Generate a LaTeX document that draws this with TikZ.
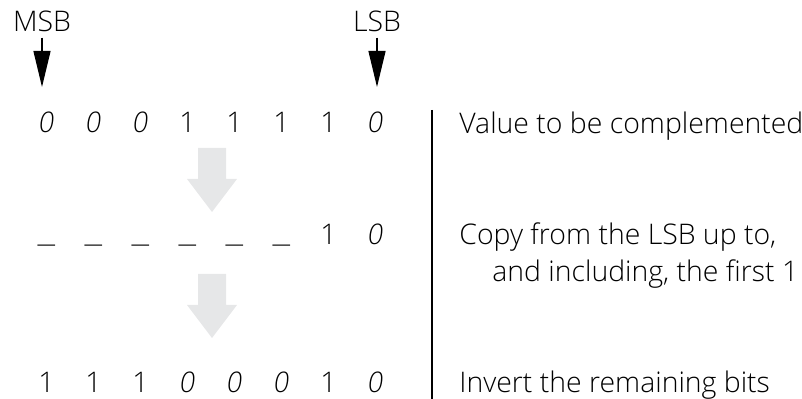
\documentclass[tikz,border=0pt]{standalone}
\usepackage{fontspec}
\setmainfont{Open Sans}[UprightFont={* Light},ItalicFont={* Light Italic}]
\usetikzlibrary{arrows.meta}
\definecolor{flowgray}{HTML}{E6E7E8}
\newcommand{\zero}{\textit{0}}
\newcommand{\blank}{\raisebox{1.2pt}{\scalebox{1.5}[1]{\_}}}
\begin{document}
\begin{tikzpicture}[x=0.5pt,y=-0.5pt,font=\fontsize{14.2}{16}\selectfont,
		bit/.style={anchor=base,inner sep=0pt},
		note/.style={anchor=base west,inner sep=0pt},
		pointer/.style={line width=0.6pt,-{Triangle[length=18pt,width=8.5pt]}},
		flow/.style={fill=flowgray,draw=none}]
	\useasboundingbox (0,0) rectangle (802,399);
	% end labels with their pointers
	\node[bit] (msb) at (42,32) {MSB};
	\node[bit] (lsb) at (377,32) {LSB};
	\path (42,87) coordinate (msbtip)
		(377,87) coordinate (lsbtip);
	\draw[pointer] ([yshift=-2.5pt]msb.south)--(msbtip);
	\draw[pointer] ([yshift=-2.5pt]lsb.south)--(lsbtip);
	% the three rows of bits
	\foreach \b [count=\i] in {\zero,\zero,\zero,1,1,1,1,\zero}
		\node[bit] (a\i) at ({46.5+47*(\i-1)},133) {\b};
	\foreach \b [count=\i] in {\blank,\blank,\blank,\blank,\blank,\blank,1,\zero}
		\node[bit] (b\i) at ({46.5+47*(\i-1)},245) {\b};
	\foreach \b [count=\i] in {1,1,1,\zero,\zero,\zero,1,\zero}
		\node[bit] (c\i) at ({46.5+47*(\i-1)},393) {\b};
	% grey block arrows between rows
	\foreach \t in {148,274}
		\fill[flow] (198,\t)--(226,\t)--(226,{\t+31})--(237,{\t+31})
			--(212,{\t+64})--(187,{\t+31})--(198,{\t+31})--cycle;
	% divider and notes
	\draw[line width=0.75pt] (432,110)--(432,399);
	\node[note] (n1) at (459,134) {Value to be complemented};
	\node[note] (n2) at (459,245) {Copy from the LSB up to,};
	\node[note] (n3) at (492,282) {and including, the first 1};
	\node[note] (n4) at (459,393) {Invert the remaining bits};
\end{tikzpicture}
\end{document}
